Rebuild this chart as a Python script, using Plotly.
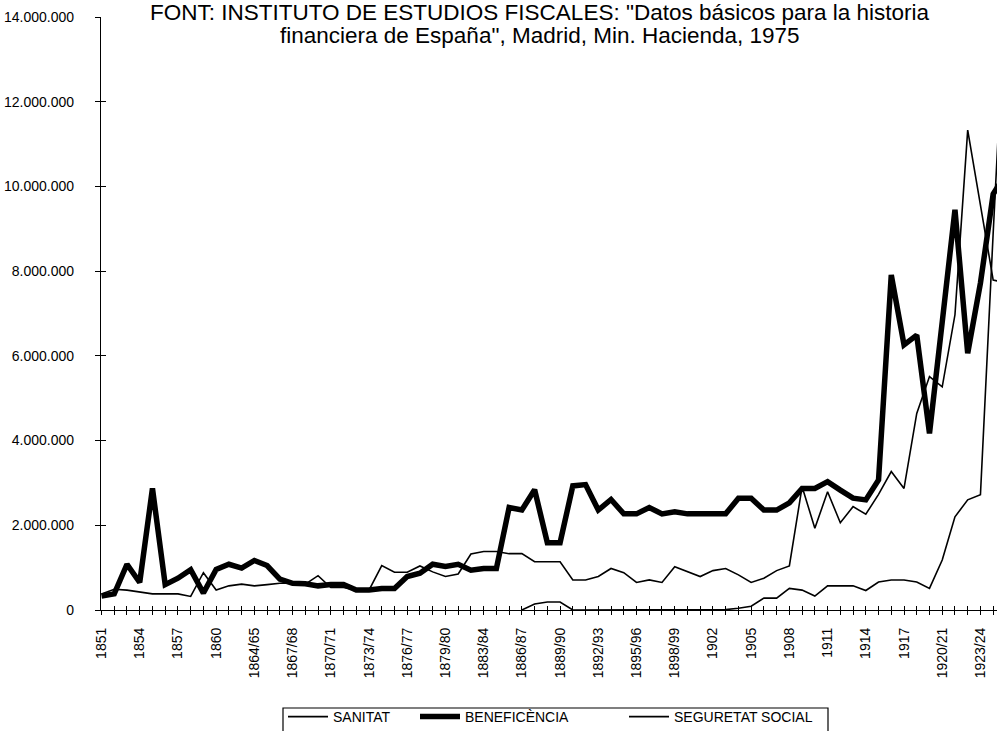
import plotly.graph_objects as go

categories = [
    "1851", "1852", "1853", "1854", "1855", "1856", "1857", "1858", "1859", "1860",
    "1861", "1862", "1864/65", "1865/66", "1866/67", "1867/68", "1868/69", "1869/70",
    "1870/71", "1871/72", "1872/73", "1873/74", "1874/75", "1875/76", "1876/77",
    "1877/78", "1878/79", "1879/80", "1880/81", "1881/82", "1883/84", "1884/85",
    "1885/86", "1886/87", "1887/88", "1888/89", "1889/90", "1890/91", "1891/92",
    "1892/93", "1893/94", "1894/95", "1895/96", "1896/97", "1897/98", "1898/99",
    "1900", "1901", "1902", "1903", "1904", "1905", "1906", "1907", "1908", "1909",
    "1910", "1911", "1912", "1913", "1914", "1915", "1916", "1917", "1918", "1919",
    "1920/21", "1921/22", "1922/23", "1923/24", "1924/25", "1925/26",
]

sanitat = [
    380000, 490000, 470000, 430000, 380000, 380000, 380000, 320000, 880000, 470000,
    570000, 610000, 570000, 600000, 630000, 630000, 610000, 810000, 530000, 530000,
    470000, 470000, 1050000, 890000, 890000, 1040000, 900000, 790000, 850000, 1320000,
    1380000, 1380000, 1330000, 1330000, 1140000, 1140000, 1140000, 710000, 710000, 790000,
    980000, 880000, 650000, 710000, 650000, 1020000, 910000, 790000, 930000, 980000,
    830000, 650000, 750000, 930000, 1040000, 2910000, 1930000, 2790000, 2060000, 2440000,
    2260000, 2730000, 3270000, 2870000, 4640000, 5510000, 5270000, 6970000, 11330000, 9550000,
    7790000, 7720000,
]

beneficencia = [
    330000, 380000, 1080000, 650000, 2870000, 600000, 750000, 950000, 400000, 960000,
    1080000, 990000, 1170000, 1050000, 730000, 630000, 620000, 570000, 600000, 600000,
    470000, 470000, 510000, 510000, 790000, 870000, 1080000, 1030000, 1080000, 940000,
    980000, 980000, 2420000, 2360000, 2840000, 1590000, 1590000, 2930000, 2960000, 2360000,
    2610000, 2270000, 2270000, 2420000, 2270000, 2320000, 2270000, 2270000, 2270000, 2270000,
    2640000, 2640000, 2360000, 2360000, 2530000, 2870000, 2870000, 3030000, 2830000, 2640000,
    2600000, 3070000, 7910000, 6260000, 6490000, 4170000, 6800000, 9450000, 6060000, 7720000,
    9820000, 10300000,
]

seguretat_social = [None] * 33 + [
    0, 140000, 190000, 190000, 0, 0, 0, 0, 0, 0,
    0, 0, 0, 0, 0, 0, 10000, 40000, 90000, 280000,
    280000, 510000, 470000, 330000, 570000, 570000, 570000, 460000, 660000, 710000,
    710000, 660000, 510000, 1180000, 2200000, 2600000, 2720000, 8900000, 14800000,
]

y_ticks = [0, 2000000, 4000000, 6000000, 8000000, 10000000, 12000000, 14000000]

title_line1 = 'FONT: INSTITUTO DE ESTUDIOS FISCALES: "Datos básicos para la historia'
title_line2 = 'financiera de España", Madrid, Min. Hacienda, 1975'

xs = list(range(len(categories)))
tick_text = [c if i % 3 == 0 else "" for i, c in enumerate(categories)]

FONT = "Arial, 'Liberation Sans', sans-serif"
W, H = 997, 731
ML, MR, MT, MB = 101, 0, 17, 121
x_range = [-0.04, 70.3]
y_range = [0, 14000000]
plot_w = W - ML - MR
plot_h = H - MT - MB


def px_x(px):
    return (px - ML) / plot_w


def px_y(py):
    return (H - MB - py) / plot_h


fig = go.Figure()
fig.add_trace(go.Scatter(x=xs, y=sanitat, name="SANITAT", mode="lines",
                         line=dict(color="black", width=1.6), legend="legend"))
fig.add_trace(go.Scatter(x=xs, y=beneficencia, name="BENEFICÈNCIA", mode="lines",
                         line=dict(color="black", width=5.5), legend="legend2"))
fig.add_trace(go.Scatter(x=xs, y=seguretat_social, name="SEGURETAT SOCIAL", mode="lines",
                         line=dict(color="black", width=1.6), legend="legend3"))
# dummy trace so the overlay axes (inner half of the crossing tick marks) are drawn
fig.add_trace(go.Scatter(x=[None], y=[None], xaxis="x2", yaxis="y2",
                         showlegend=False, hoverinfo="skip"))

leg_common = dict(orientation="h", xanchor="left", yanchor="top", y=px_y(701),
                  borderwidth=0, bgcolor="rgba(0,0,0,0)", font=dict(size=14),
                  itemwidth=40)

fig.update_layout(
    width=W, height=H,
    margin=dict(l=ML, r=MR, t=MT, b=MB, pad=0, autoexpand=False),
    paper_bgcolor="white", plot_bgcolor="white",
    font=dict(family=FONT, size=14, color="black"),
    separators=",.",
    showlegend=True,
    xaxis=dict(range=x_range, tickmode="array", tickvals=xs, ticktext=tick_text,
               tickangle=-90, ticks="outside", ticklen=4, tickwidth=1.2, tickcolor="black",
               showline=True, linecolor="black", linewidth=1.3, showgrid=False,
               zeroline=False, ticklabelstandoff=7, tickfont=dict(size=14)),
    yaxis=dict(range=y_range, tickmode="array", tickvals=y_ticks, tickformat=",.0f",
               ticks="outside", ticklen=5, tickwidth=1.2, tickcolor="black",
               showline=True, linecolor="black", linewidth=1.3, showgrid=False,
               zeroline=False, ticklabelstandoff=18, tickfont=dict(size=14)),
    xaxis2=dict(range=x_range, overlaying="x", anchor="y", side="bottom",
                tickmode="array", tickvals=xs, ticks="inside", ticklen=4, tickwidth=1.2,
                tickcolor="black", showticklabels=False, showline=False, showgrid=False,
                zeroline=False),
    yaxis2=dict(range=y_range, overlaying="y", anchor="x", side="left",
                tickmode="array", tickvals=y_ticks, ticks="inside", ticklen=5, tickwidth=1.2,
                tickcolor="black", showticklabels=False, showline=False, showgrid=False,
                zeroline=False),
    legend=dict(leg_common, x=px_x(283)),
    legend2=dict(leg_common, x=px_x(415)),
    legend3=dict(leg_common, x=px_x(624)),
    shapes=[
        dict(type="rect", xref="paper", yref="paper", layer="below",
             x0=px_x(283), x1=px_x(828), y0=px_y(745), y1=px_y(708),
             line=dict(color="black", width=1.2), fillcolor="white"),
    ],
    annotations=[
        dict(text=title_line1, xref="paper", yref="paper",
             x=px_x(540), y=px_y(13),
             xanchor="center", yanchor="middle", showarrow=False,
             font=dict(size=22.5, family=FONT)),
        dict(text=title_line2, xref="paper", yref="paper",
             x=px_x(540), y=px_y(35),
             xanchor="center", yanchor="middle", showarrow=False,
             font=dict(size=22.5, family=FONT)),
    ],
)

fig.write_html("out.html", config={"displayModeBar": False},
               post_script="document.body.style.margin='0';")
